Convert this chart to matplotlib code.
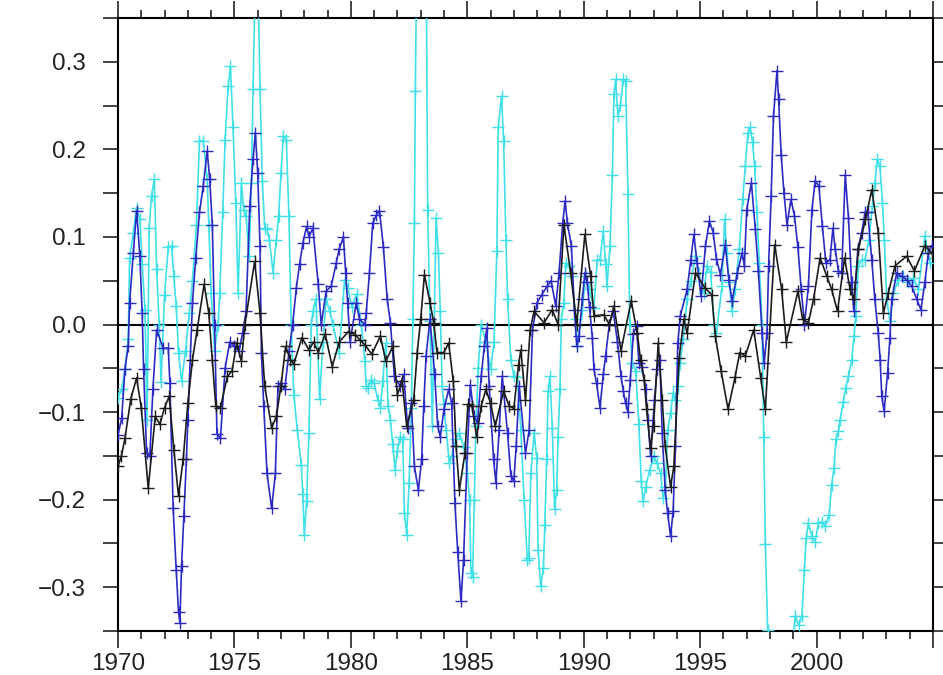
import matplotlib
matplotlib.use("Agg")
import matplotlib.pyplot as plt
from matplotlib.ticker import MultipleLocator, FixedLocator

# ---------------- data ----------------
black_t = [1970.00, 1970.15, 1970.30, 1970.55, 1970.80, 1971.00, 1971.30, 1971.60, 1971.80, 1972.00,
           1972.20, 1972.40, 1972.60, 1972.80, 1973.00, 1973.20, 1973.40, 1973.70, 1973.90, 1974.05,
           1974.20, 1974.40, 1974.70, 1974.90, 1975.10, 1975.30, 1975.45, 1975.87, 1976.10, 1976.30,
           1976.60, 1976.80, 1977.00, 1977.20, 1977.40, 1977.55, 1977.90, 1978.20, 1978.40, 1978.60,
           1978.90, 1979.20, 1979.50, 1979.90, 1980.20, 1980.40, 1980.60, 1980.90, 1981.27, 1981.50,
           1981.80, 1982.00, 1982.20, 1982.40, 1982.70, 1982.85, 1983.00, 1983.16, 1983.40, 1983.56,
           1983.70, 1984.00, 1984.20, 1984.40, 1984.52, 1984.66, 1984.90, 1985.03, 1985.20, 1985.40,
           1985.60, 1985.80, 1986.00, 1986.20, 1986.56, 1986.80, 1987.00, 1987.20, 1987.30, 1987.50,
           1987.70, 1987.87, 1988.30, 1988.65, 1988.90, 1989.15, 1989.44, 1989.70, 1990.05, 1990.30,
           1990.44, 1990.87, 1991.10, 1991.30, 1991.60, 1992.04, 1992.30, 1992.44, 1992.60, 1992.70,
           1992.87, 1993.00, 1993.20, 1993.37, 1993.50, 1993.73, 1993.87, 1994.10, 1994.30, 1994.44,
           1994.80, 1995.20, 1995.50, 1995.65, 1995.90, 1996.20, 1996.50, 1996.70, 1996.94, 1997.30,
           1997.60, 1997.80, 1998.20, 1998.50, 1998.70, 1999.20, 1999.40, 1999.65, 1999.87, 2000.15,
           2000.44, 2000.65, 2000.90, 2001.20, 2001.44, 2001.60, 2001.80, 2002.10, 2002.37, 2002.65,
           2002.87, 2003.08, 2003.37, 2003.87, 2004.20, 2004.65, 2004.94]
black_v = [-0.162, -0.150, -0.130, -0.085, -0.061, -0.095, -0.187, -0.105, -0.114, -0.095,
           -0.082, -0.143, -0.196, -0.154, -0.090, -0.040, -0.006, 0.046, 0.013, -0.040,
           -0.093, -0.095, -0.059, -0.053, -0.021, -0.042, 0.000, 0.072, 0.013, -0.070,
           -0.118, -0.105, -0.070, -0.025, -0.040, -0.045, -0.015, -0.029, -0.020, -0.032,
           -0.011, -0.048, -0.020, -0.008, -0.012, -0.018, -0.023, -0.034, -0.013, -0.042,
           -0.025, -0.080, -0.065, -0.116, -0.086, -0.032, 0.006, 0.057, 0.025, 0.002,
           -0.032, -0.032, -0.021, -0.065, -0.139, -0.189, -0.147, -0.091, -0.093, -0.128,
           -0.093, -0.074, -0.090, -0.116, -0.076, -0.093, -0.096, -0.046, -0.029, -0.086,
           -0.006, 0.015, 0.002, 0.017, 0.000, 0.114, 0.059, 0.000, 0.103, 0.055,
           0.010, 0.011, 0.000, 0.021, -0.030, 0.027, -0.010, -0.040, -0.063, -0.097,
           -0.141, -0.116, -0.021, -0.086, -0.139, -0.185, -0.162, -0.038, 0.006, -0.010,
           0.059, 0.042, 0.034, -0.013, -0.053, -0.097, -0.060, -0.032, -0.036, -0.006,
           -0.061, -0.097, 0.091, 0.040, -0.020, 0.038, 0.006, 0.002, 0.029, 0.076,
           0.055, 0.040, 0.015, 0.076, 0.040, 0.029, 0.086, 0.120, 0.154, 0.105,
           0.013, 0.036, 0.067, 0.078, 0.061, 0.090, 0.082]

blue_t = [1970.00, 1970.16, 1970.30, 1970.44, 1970.50, 1970.66, 1970.80, 1970.94, 1971.04, 1971.10,
          1971.23, 1971.37, 1971.50, 1971.66, 1971.94, 1972.16, 1972.23, 1972.37, 1972.50, 1972.60,
          1972.66, 1972.73, 1972.83, 1972.94, 1973.00, 1973.20, 1973.34, 1973.50, 1973.66, 1973.83,
          1973.94, 1974.05, 1974.15, 1974.25, 1974.40, 1974.60, 1974.80, 1975.00, 1975.20, 1975.35,
          1975.50, 1975.66, 1975.80, 1975.90, 1976.00, 1976.10, 1976.16, 1976.26, 1976.40, 1976.60,
          1976.76, 1976.87, 1977.00, 1977.16, 1977.35, 1977.50, 1977.66, 1977.80, 1977.94, 1978.10,
          1978.20, 1978.37, 1978.60, 1978.73, 1978.94, 1979.16, 1979.37, 1979.50, 1979.68, 1979.78,
          1979.86, 1979.97, 1980.23, 1980.37, 1980.60, 1980.66, 1980.80, 1980.94, 1981.10, 1981.23,
          1981.40, 1981.56, 1981.70, 1981.87, 1982.10, 1982.27, 1982.44, 1982.60, 1982.73, 1982.90,
          1983.04, 1983.13, 1983.23, 1983.40, 1983.60, 1983.73, 1983.84, 1984.00, 1984.20, 1984.33,
          1984.47, 1984.59, 1984.73, 1984.84, 1985.00, 1985.13, 1985.30, 1985.44, 1985.60, 1985.73,
          1985.84, 1985.94, 1986.13, 1986.23, 1986.37, 1986.50, 1986.73, 1986.87, 1987.00, 1987.10,
          1987.23, 1987.50, 1987.66, 1987.80, 1988.00, 1988.20, 1988.44, 1988.60, 1988.80, 1988.94,
          1989.10, 1989.20, 1989.30, 1989.47, 1989.60, 1989.70, 1989.80, 1989.94, 1990.05, 1990.15,
          1990.25, 1990.37, 1990.44, 1990.55, 1990.70, 1990.84, 1990.94, 1991.10, 1991.27, 1991.45,
          1991.60, 1991.70, 1991.80, 1991.90, 1992.00, 1992.13, 1992.27, 1992.37, 1992.50, 1992.66,
          1992.76, 1992.87, 1993.04, 1993.15, 1993.27, 1993.37, 1993.50, 1993.60, 1993.73, 1993.84,
          1993.94, 1994.04, 1994.15, 1994.44, 1994.60, 1994.73, 1994.87, 1995.04, 1995.23, 1995.40,
          1995.56, 1995.70, 1995.87, 1996.08, 1996.23, 1996.37, 1996.60, 1996.80, 1996.90, 1997.00,
          1997.20, 1997.37, 1997.50, 1997.66, 1997.75, 1997.87, 1997.94, 1998.05, 1998.15, 1998.30,
          1998.37, 1998.48, 1998.60, 1998.73, 1998.90, 1999.05, 1999.20, 1999.34, 1999.48, 1999.65,
          1999.80, 1999.94, 2000.10, 2000.25, 2000.40, 2000.58, 2000.70, 2000.80, 2000.94, 2001.08,
          2001.23, 2001.37, 2001.50, 2001.60, 2001.77, 2001.94, 2002.08, 2002.20, 2002.37, 2002.50,
          2002.65, 2002.73, 2002.80, 2002.90, 2003.05, 2003.15, 2003.23, 2003.44, 2003.66, 2003.87,
          2004.08, 2004.30, 2004.48, 2004.65, 2004.80, 2004.94]
blue_v = [-0.126, -0.107, -0.051, -0.025, 0.025, 0.082, 0.130, 0.078, 0.013, -0.051,
          -0.147, -0.150, -0.074, -0.006, -0.027, -0.027, -0.067, -0.210, -0.280, -0.328,
          -0.341, -0.276, -0.219, -0.154, -0.109, 0.025, 0.076, 0.128, 0.158, 0.198,
          0.166, 0.114, 0.000, -0.125, -0.130, -0.050, -0.020, -0.025, -0.030, -0.010,
          0.015, 0.135, 0.189, 0.219, 0.173, 0.090, -0.032, -0.093, -0.170, -0.210,
          -0.170, -0.070, -0.067, -0.074, -0.030, 0.000, 0.042, 0.069, 0.093, 0.112,
          0.100, 0.110, 0.046, 0.000, 0.038, 0.044, 0.070, 0.086, 0.100, 0.059,
          0.025, -0.020, 0.025, 0.006, 0.000, 0.013, 0.059, 0.116, 0.125, 0.130,
          0.088, 0.029, 0.002, -0.059, -0.070, -0.057, -0.118, -0.090, -0.162, -0.189,
          -0.154, -0.093, -0.036, 0.006, -0.057, -0.116, -0.128, -0.097, -0.074, -0.090,
          -0.204, -0.260, -0.316, -0.269, -0.147, -0.069, -0.105, -0.112, -0.059, -0.025,
          -0.004, -0.070, -0.154, -0.181, -0.120, -0.059, -0.124, -0.173, -0.179, -0.139,
          -0.070, -0.147, -0.120, -0.006, 0.025, 0.034, 0.044, 0.050, 0.021, 0.059,
          0.116, 0.141, 0.116, 0.090, 0.017, -0.025, -0.013, 0.029, 0.059, 0.048,
          0.020, -0.015, -0.051, -0.067, -0.095, -0.057, -0.036, 0.000, 0.015, -0.020,
          -0.059, -0.076, -0.090, -0.100, -0.063, -0.011, -0.002, -0.044, -0.048, -0.074,
          -0.109, -0.150, -0.086, -0.051, -0.040, -0.124, -0.189, -0.215, -0.242, -0.213,
          -0.139, -0.021, 0.010, 0.040, 0.074, 0.103, 0.070, 0.032, 0.090, 0.118,
          0.105, 0.075, 0.057, 0.091, 0.051, 0.027, 0.059, 0.082, 0.067, 0.131,
          0.162, 0.109, 0.061, -0.010, -0.044, -0.010, 0.067, 0.147, 0.238, 0.290,
          0.257, 0.194, 0.150, 0.114, 0.143, 0.124, 0.088, 0.040, 0.000, 0.044,
          0.131, 0.164, 0.158, 0.112, 0.070, 0.074, 0.110, 0.086, 0.061, 0.059,
          0.171, 0.122, 0.048, 0.015, 0.086, 0.105, 0.128, 0.128, 0.074, 0.029,
          -0.010, -0.040, -0.082, -0.099, -0.055, -0.015, 0.029, 0.059, 0.055, 0.051,
          0.044, 0.029, 0.017, 0.048, 0.082, 0.090]

cyan_t = [1970.00, 1970.16, 1970.30, 1970.44, 1970.50, 1970.66, 1970.80, 1970.94, 1971.04, 1971.16,
          1971.25, 1971.34, 1971.44, 1971.56, 1971.66, 1971.77, 1971.85, 1972.00, 1972.16, 1972.30,
          1972.40, 1972.50, 1972.60, 1972.73, 1972.90, 1973.06, 1973.20, 1973.37, 1973.50, 1973.66,
          1973.83, 1973.90, 1974.00, 1974.15, 1974.30, 1974.37, 1974.50, 1974.60, 1974.73, 1974.83,
          1974.94, 1975.06, 1975.16, 1975.30, 1975.40, 1975.50, 1975.63, 1975.73, 1975.80, 1975.92,
          1976.02, 1976.10, 1976.20, 1976.30, 1976.40, 1976.50, 1976.66, 1976.80, 1976.90, 1977.00,
          1977.10, 1977.23, 1977.34, 1977.44, 1977.55, 1977.70, 1977.87, 1977.94, 1978.00, 1978.10,
          1978.20, 1978.30, 1978.37, 1978.50, 1978.66, 1978.80, 1978.94, 1979.10, 1979.23, 1979.50,
          1979.73, 1979.87, 1980.05, 1980.25, 1980.45, 1980.60, 1980.66, 1980.73, 1980.87, 1981.00,
          1981.16, 1981.27, 1981.37, 1981.50, 1981.60, 1981.70, 1981.80, 1981.90, 1981.99, 1982.13,
          1982.23, 1982.30, 1982.40, 1982.50, 1982.60, 1982.66, 1982.73, 1982.77, 1982.84, 1983.05,
          1983.24, 1983.30, 1983.40, 1983.50, 1983.66, 1983.76, 1983.84, 1983.92, 1983.99, 1984.09,
          1984.23, 1984.33, 1984.50, 1984.66, 1984.85, 1985.00, 1985.10, 1985.16, 1985.23, 1985.30,
          1985.37, 1985.47, 1985.60, 1985.80, 1986.00, 1986.15, 1986.27, 1986.33, 1986.47, 1986.56,
          1986.66, 1986.73, 1986.87, 1987.00, 1987.15, 1987.30, 1987.44, 1987.58, 1987.64, 1987.73,
          1987.87, 1987.98, 1988.04, 1988.15, 1988.27, 1988.33, 1988.41, 1988.47, 1988.55, 1988.65,
          1988.75, 1988.84, 1988.90, 1988.98, 1989.04, 1989.15, 1989.23, 1989.37, 1989.50, 1989.66,
          1989.73, 1989.94, 1990.08, 1990.23, 1990.44, 1990.58, 1990.70, 1990.84, 1990.94, 1991.00,
          1991.13, 1991.23, 1991.30, 1991.37, 1991.47, 1991.58, 1991.70, 1991.80, 1991.90, 1991.98,
          1992.08, 1992.23, 1992.37, 1992.47, 1992.55, 1992.66, 1992.84, 1993.01, 1993.15, 1993.30,
          1993.41, 1993.51, 1993.61, 1993.73, 1993.84, 1993.94, 1994.04, 1994.15, 1994.27, 1994.44,
          1994.60, 1994.80, 1994.94, 1995.15, 1995.30, 1995.45, 1995.60, 1995.70, 1995.94, 1996.05,
          1996.15, 1996.25, 1996.37, 1996.50, 1996.68, 1996.83, 1996.94, 1997.05, 1997.15, 1997.25,
          1997.34, 1997.44, 1997.54, 1997.66, 1997.73, 1997.80, 1997.90, 1998.10, 1998.60, 1998.95,
          1999.08, 1999.23, 1999.37, 1999.48, 1999.55, 1999.65, 1999.80, 1999.94, 2000.08, 2000.23,
          2000.37, 2000.54, 2000.65, 2000.75, 2000.83, 2000.94, 2001.01, 2001.15, 2001.25, 2001.37,
          2001.51, 2001.61, 2001.68, 2001.80, 2001.94, 2002.08, 2002.25, 2002.40, 2002.51, 2002.61,
          2002.72, 2002.83, 2002.91, 2003.01, 2003.15, 2003.30, 2003.51, 2003.73, 2003.94, 2004.15,
          2004.37, 2004.65, 2004.87]
cyan_v = [-0.084, -0.074, -0.051, -0.017, 0.076, 0.105, 0.133, 0.120, 0.069, 0.017,
          -0.109, 0.110, 0.147, 0.166, 0.063, 0.000, -0.066, 0.034, 0.088, 0.090,
          0.055, 0.021, -0.032, -0.065, -0.030, 0.013, 0.050, 0.114, 0.210, 0.210,
          0.166, 0.114, 0.036, -0.030, 0.000, 0.036, 0.128, 0.211, 0.272, 0.295,
          0.225, 0.139, 0.036, 0.162, 0.131, 0.124, 0.078, 0.162, 0.269, 0.420,
          0.380, 0.269, 0.164, 0.110, 0.109, 0.097, 0.059, 0.097, 0.124, 0.173,
          0.215, 0.211, 0.124, 0.000, -0.080, -0.120, -0.160, -0.194, -0.240, -0.202,
          -0.124, 0.000, 0.015, 0.029, -0.085, -0.020, 0.029, 0.015, 0.000, -0.032,
          0.051, 0.042, 0.020, 0.035, 0.000, -0.042, -0.070, -0.072, -0.063, -0.067,
          -0.086, -0.095, -0.065, -0.021, -0.093, -0.109, -0.137, -0.166, -0.145, -0.128,
          -0.131, -0.215, -0.240, -0.181, -0.095, 0.006, 0.116, 0.267, 0.450, 0.550,
          0.400, 0.131, 0.004, -0.116, 0.122, 0.082, 0.015, -0.070, -0.091, -0.120,
          -0.158, -0.150, -0.131, -0.124, -0.140, -0.170, -0.200, -0.284, -0.288, -0.200,
          -0.116, -0.050, 0.000, -0.020, -0.051, -0.020, 0.084, 0.225, 0.261, 0.210,
          0.097, 0.029, -0.040, -0.059, -0.060, -0.120, -0.200, -0.269, -0.267, -0.170,
          -0.124, -0.152, -0.257, -0.299, -0.278, -0.229, -0.154, -0.076, -0.059, -0.118,
          -0.211, -0.189, -0.128, -0.074, 0.006, 0.025, 0.070, 0.067, 0.055, 0.006,
          -0.025, 0.017, 0.055, 0.040, 0.019, 0.074, 0.074, 0.107, 0.069, 0.044,
          0.090, 0.171, 0.263, 0.280, 0.238, 0.251, 0.280, 0.278, 0.149, 0.000,
          -0.044, -0.053, -0.114, -0.179, -0.202, -0.185, -0.166, -0.150, -0.158, -0.170,
          -0.198, -0.185, -0.120, -0.101, -0.078, -0.086, -0.070, -0.044, -0.017, 0.029,
          0.050, 0.078, 0.059, 0.036, 0.067, 0.060, 0.000, -0.010, 0.044, 0.120,
          0.082, 0.048, 0.015, 0.040, 0.086, 0.143, 0.181, 0.219, 0.225, 0.208,
          0.181, 0.128, 0.070, 0.000, -0.128, -0.251, -0.349, -0.450, -0.500, -0.380,
          -0.333, -0.343, -0.333, -0.280, -0.244, -0.227, -0.242, -0.248, -0.227, -0.225,
          -0.230, -0.217, -0.183, -0.164, -0.131, -0.122, -0.109, -0.088, -0.072, -0.059,
          -0.040, -0.013, 0.010, 0.067, 0.074, 0.074, 0.097, 0.135, 0.162, 0.189,
          0.181, 0.139, 0.097, 0.029, 0.004, 0.036, 0.051, 0.055, 0.048, 0.053,
          0.040, 0.101, 0.070]

x_range = (1970, 2005)
y_range = (-0.35, 0.35)
x_major_ticks = [1970, 1975, 1980, 1985, 1990, 1995, 2000, 2005]
y_tick_values = [-0.3, -0.2, -0.1, 0.0, 0.1, 0.2, 0.3]

# ---------------- figure ----------------
plt.rcParams['font.family'] = ['Liberation Sans', 'DejaVu Sans']
fig = plt.figure(figsize=(9.43, 6.75), dpi=100)
ax = fig.add_axes([0.1251, 0.0652, 0.8643, 0.9081])

series = [
    (cyan_t, cyan_v, '#3fe0e6'),
    (blue_t, blue_v, '#2b2bc4'),
    (black_t, black_v, '#1c1c1c'),
]
for i, (t, v, c) in enumerate(series):
    ax.plot(t, v, color=c, lw=1.2, marker='+', ms=8, mew=1.0, zorder=3 + i)

ax.axhline(0.0, color='black', lw=1.5, zorder=2.5)

ax.set_xlim(*x_range)
ax.set_ylim(*y_range)

ax.xaxis.set_major_locator(FixedLocator(x_major_ticks))
ax.xaxis.set_minor_locator(MultipleLocator(1))
ax.set_xticklabels([str(v) if v < 2005 else '' for v in x_major_ticks])
ax.yaxis.set_major_locator(FixedLocator(y_tick_values))
ax.yaxis.set_minor_locator(MultipleLocator(0.05))
ax.set_yticklabels([f"{v:.1f}".replace('-', '\u2212') for v in y_tick_values])

ax.tick_params(axis='both', which='both', direction='out', top=True, right=True,
               labelsize=17.5, colors='#222222', width=1.2)
ax.tick_params(axis='x', which='major', length=12, pad=4)
ax.tick_params(axis='x', which='minor', length=6)
ax.tick_params(axis='y', which='major', length=11, pad=12)
ax.tick_params(axis='y', which='minor', length=11)
for s in ax.spines.values():
    s.set_linewidth(1.5)

fig.savefig('out.png', dpi=100)
